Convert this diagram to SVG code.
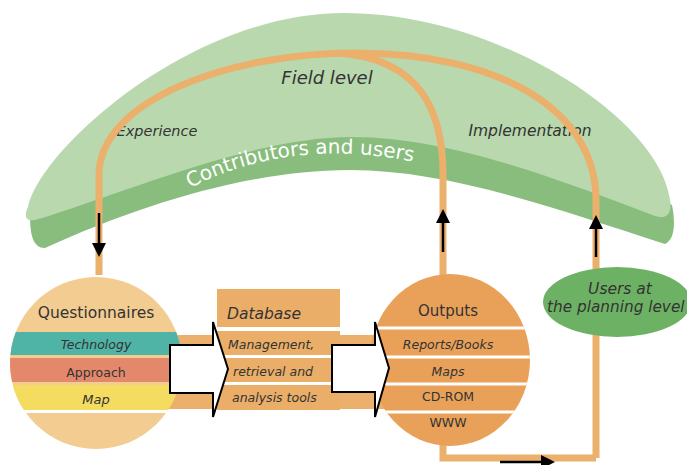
<svg xmlns="http://www.w3.org/2000/svg" width="687" height="465" viewBox="0 0 687 465">
<style>
.t{font-family:"DejaVu Sans","Liberation Sans",sans-serif;fill:#333}
.i{font-style:italic}
.c{text-anchor:middle}
.ol{fill:none;stroke:#EBB06B;stroke-width:7}
.sep{stroke:#fff;stroke-width:3}
.blk{stroke:#000;stroke-width:2.5;fill:none;marker-end:url(#ah)}
.wa{fill:#fff;stroke:#000;stroke-width:2;stroke-linejoin:miter}
</style>
<defs>
<marker id="ah" markerUnits="userSpaceOnUse" markerWidth="14" markerHeight="14" viewBox="0 0 14 14" refX="4" refY="7" orient="auto">
<path d="M0,0 L14,7 L0,14 Z" fill="#000"/>
</marker>
<clipPath id="qc"><circle cx="96" cy="363" r="86"/></clipPath>
<clipPath id="oc"><ellipse cx="450" cy="360" rx="80" ry="86"/></clipPath>
<path id="cu" d="M190,188 Q300,132 436,167"/>
</defs>

<g id="field-level">
<path d="M30,215 L340,30 L672,205 C676,225 674,240 665,244 C560,210 450,170 350,170 C250,170 140,205 45,248 C33,248 30,235 30,215 Z" fill="#88BD7D"/>
<path d="M28,207 C40,150 190,13 344,13 C500,13 660,120 670,200 C672,212 668,220 655,216 C560,180 450,137 352,137 C250,137 120,195 35,220 C25,222 24,215 28,207 Z" fill="#B9D8AE"/>
<text class="t i c" x="327" y="84" font-size="18">Field level</text>
<text class="t i c" x="157" y="136" font-size="14.5">Experience</text>
<text class="t i c" x="530" y="136" font-size="15.5">Implementation</text>
<text class="t" font-size="20" style="fill:#fff"><textPath href="#cu">Contributors and users</textPath></text>
</g>

<g id="connectors">
<path class="ol" d="M99,275 V175 C99,100 230,53 355,53 C500,53 596,110 596,200 V458"/>
<path class="ol" d="M340,53 C420,60 443,110 443,175 V290"/>
<path class="ol" d="M443,400 V458 H596"/>
<rect x="150" y="335" width="250" height="74" fill="#EBB06B"/>
<line class="sep" x1="217" y1="356.5" x2="400" y2="356.5"/>
<line class="sep" x1="217" y1="383.5" x2="400" y2="383.5"/>
</g>

<g id="questionnaires">
<circle cx="96" cy="363" r="86" fill="#F2CC90"/>
<g clip-path="url(#qc)">
<rect x="0" y="332" width="200" height="23" fill="#4FB3A5"/>
<rect x="0" y="358" width="200" height="24" fill="#E4886C"/>
<rect x="0" y="385" width="200" height="25" fill="#F3DC60"/>
<line class="sep" x1="0" y1="411.5" x2="200" y2="411.5"/>
</g>
<text class="t c" x="96" y="318" font-size="15.5">Questionnaires</text>
<text class="t i c" x="96" y="349" font-size="12.5">Technology</text>
<text class="t c" x="96" y="377" font-size="12.5">Approach</text>
<text class="t i c" x="96" y="404" font-size="13">Map</text>
</g>

<g id="database">
<rect x="217" y="289" width="123" height="38" fill="#EAAE69"/>
<rect x="217" y="331" width="123" height="79" fill="#EAAE69"/>
<line class="sep" x1="217" y1="356.5" x2="340" y2="356.5"/>
<line class="sep" x1="217" y1="383.5" x2="340" y2="383.5"/>
<text class="t i" x="227" y="319" font-size="15.5">Database</text>
<text class="t i" x="228" y="349" font-size="12.5">Management,</text>
<text class="t i" x="233" y="376" font-size="12.5">retrieval and</text>
<text class="t i" x="232" y="402" font-size="12.5">analysis tools</text>
</g>

<g id="outputs">
<ellipse cx="450" cy="360" rx="80" ry="86" fill="#E9A159"/>
<g clip-path="url(#oc)">
<line class="sep" x1="360" y1="328" x2="540" y2="328"/>
<line class="sep" x1="360" y1="357" x2="540" y2="357"/>
<line class="sep" x1="360" y1="384" x2="540" y2="384"/>
<line class="sep" x1="360" y1="412" x2="540" y2="412"/>
</g>
<text class="t c" x="448" y="316" font-size="15">Outputs</text>
<text class="t i c" x="448" y="349" font-size="12.5">Reports/Books</text>
<text class="t i c" x="448" y="376" font-size="12.5">Maps</text>
<text class="t c" x="448" y="401" font-size="12.5">CD-ROM</text>
<text class="t c" x="448" y="427" font-size="12.5">WWW</text>
</g>

<g id="users-planning">
<ellipse cx="617" cy="302" rx="74" ry="35" fill="#6DB264"/>
<text class="t i c" x="620" y="294" font-size="15.5">Users at</text>
<text class="t i" x="547" y="312" font-size="15.3">the planning level</text>
</g>

<g id="arrows">
<polygon class="wa" points="170,345 213,345 213,322 228,369 213,417 213,393 170,393"/>
<polygon class="wa" points="332,345 375,345 375,322 389,368 375,417 375,392 332,392"/>
<line class="blk" x1="99" y1="213" x2="99" y2="247"/>
<line class="blk" x1="443" y1="252" x2="443" y2="219"/>
<line class="blk" x1="596" y1="257" x2="596" y2="225"/>
<line class="blk" x1="500" y1="462" x2="545" y2="462"/>
</g>
</svg>
